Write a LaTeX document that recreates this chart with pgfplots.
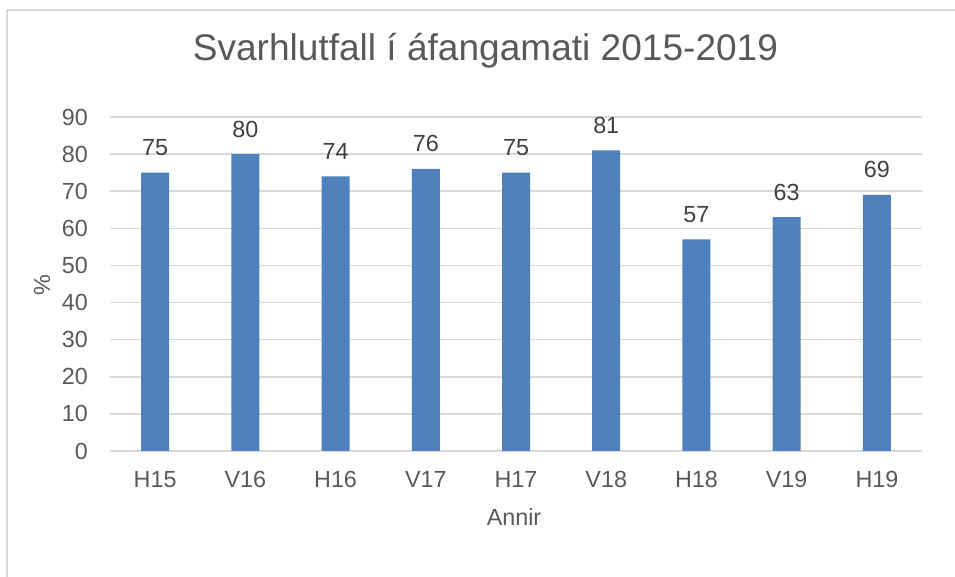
\documentclass[border=0pt]{standalone}
\usepackage{pgfplots}
\pgfplotsset{compat=1.18}
\usepackage{fontspec}
\setmainfont{Liberation Sans}
\definecolor{barblue}{HTML}{4F81BD}
\definecolor{txtgray}{HTML}{595959}
\definecolor{lbl}{HTML}{404040}
\definecolor{gridgray}{HTML}{D9D9D9}
\begin{document}
\begin{tikzpicture}
\useasboundingbox (0,0) rectangle (716.25pt,432.75pt);
\begin{scope}
\clip (0,0) rectangle (716.25pt,432.75pt);
\draw[gridgray, line width=1pt] (5.25pt,-20pt) rectangle (740pt,425.25pt);
\end{scope}
\begin{axis}[
  at={(82.5pt,94.5pt)}, anchor=south west,
  scale only axis, width=609pt, height=250.5pt,
  ybar, bar width=21pt,
  xmin=-0.5, xmax=8.5, ymin=0, ymax=90,
  xtick={0,...,8},
  xticklabels={H15,V16,H16,V17,H17,V18,H18,V19,H19},
  ytick={0,10,...,90},
  axis line style={draw=none},
  major tick length=0pt,
  ymajorgrids,
  grid style={gridgray, line width=1.1pt},
  /pgf/number format/assume math mode=true,
  ticklabel style={font=\fontsize{17.5}{20}\selectfont, text=txtgray},
  xticklabel style={anchor=base, inner sep=0pt, yshift=-27.75pt},
  yticklabel style={anchor=east, inner sep=0pt, xshift=-16.5pt},
  nodes near coords,
  every node near coord/.append style={anchor=base, inner sep=0pt, yshift=12.75pt, font=\fontsize{17.5}{20}\selectfont, text=lbl},
  clip=false,
]
\addplot[fill=barblue, draw=none] coordinates {
(0,75) (1,80) (2,74) (3,76) (4,75) (5,81) (6,57) (7,63) (8,69)
};
\end{axis}
\node[anchor=base, text=txtgray, font=\fontsize{27.8}{32}\selectfont, inner sep=0pt] at (364.1pt,387.4pt) {Svarhlutfall í áfangamati 2015-2019};
\node[anchor=base, text=txtgray, font=\fontsize{17.5}{20}\selectfont, inner sep=0pt] at (385.5pt,38.25pt) {Annir};
\node[anchor=base, rotate=90, text=txtgray, font=\fontsize{17.5}{20}\selectfont, inner sep=0pt] at (37.5pt,219pt) {\%};
\end{tikzpicture}
\end{document}
